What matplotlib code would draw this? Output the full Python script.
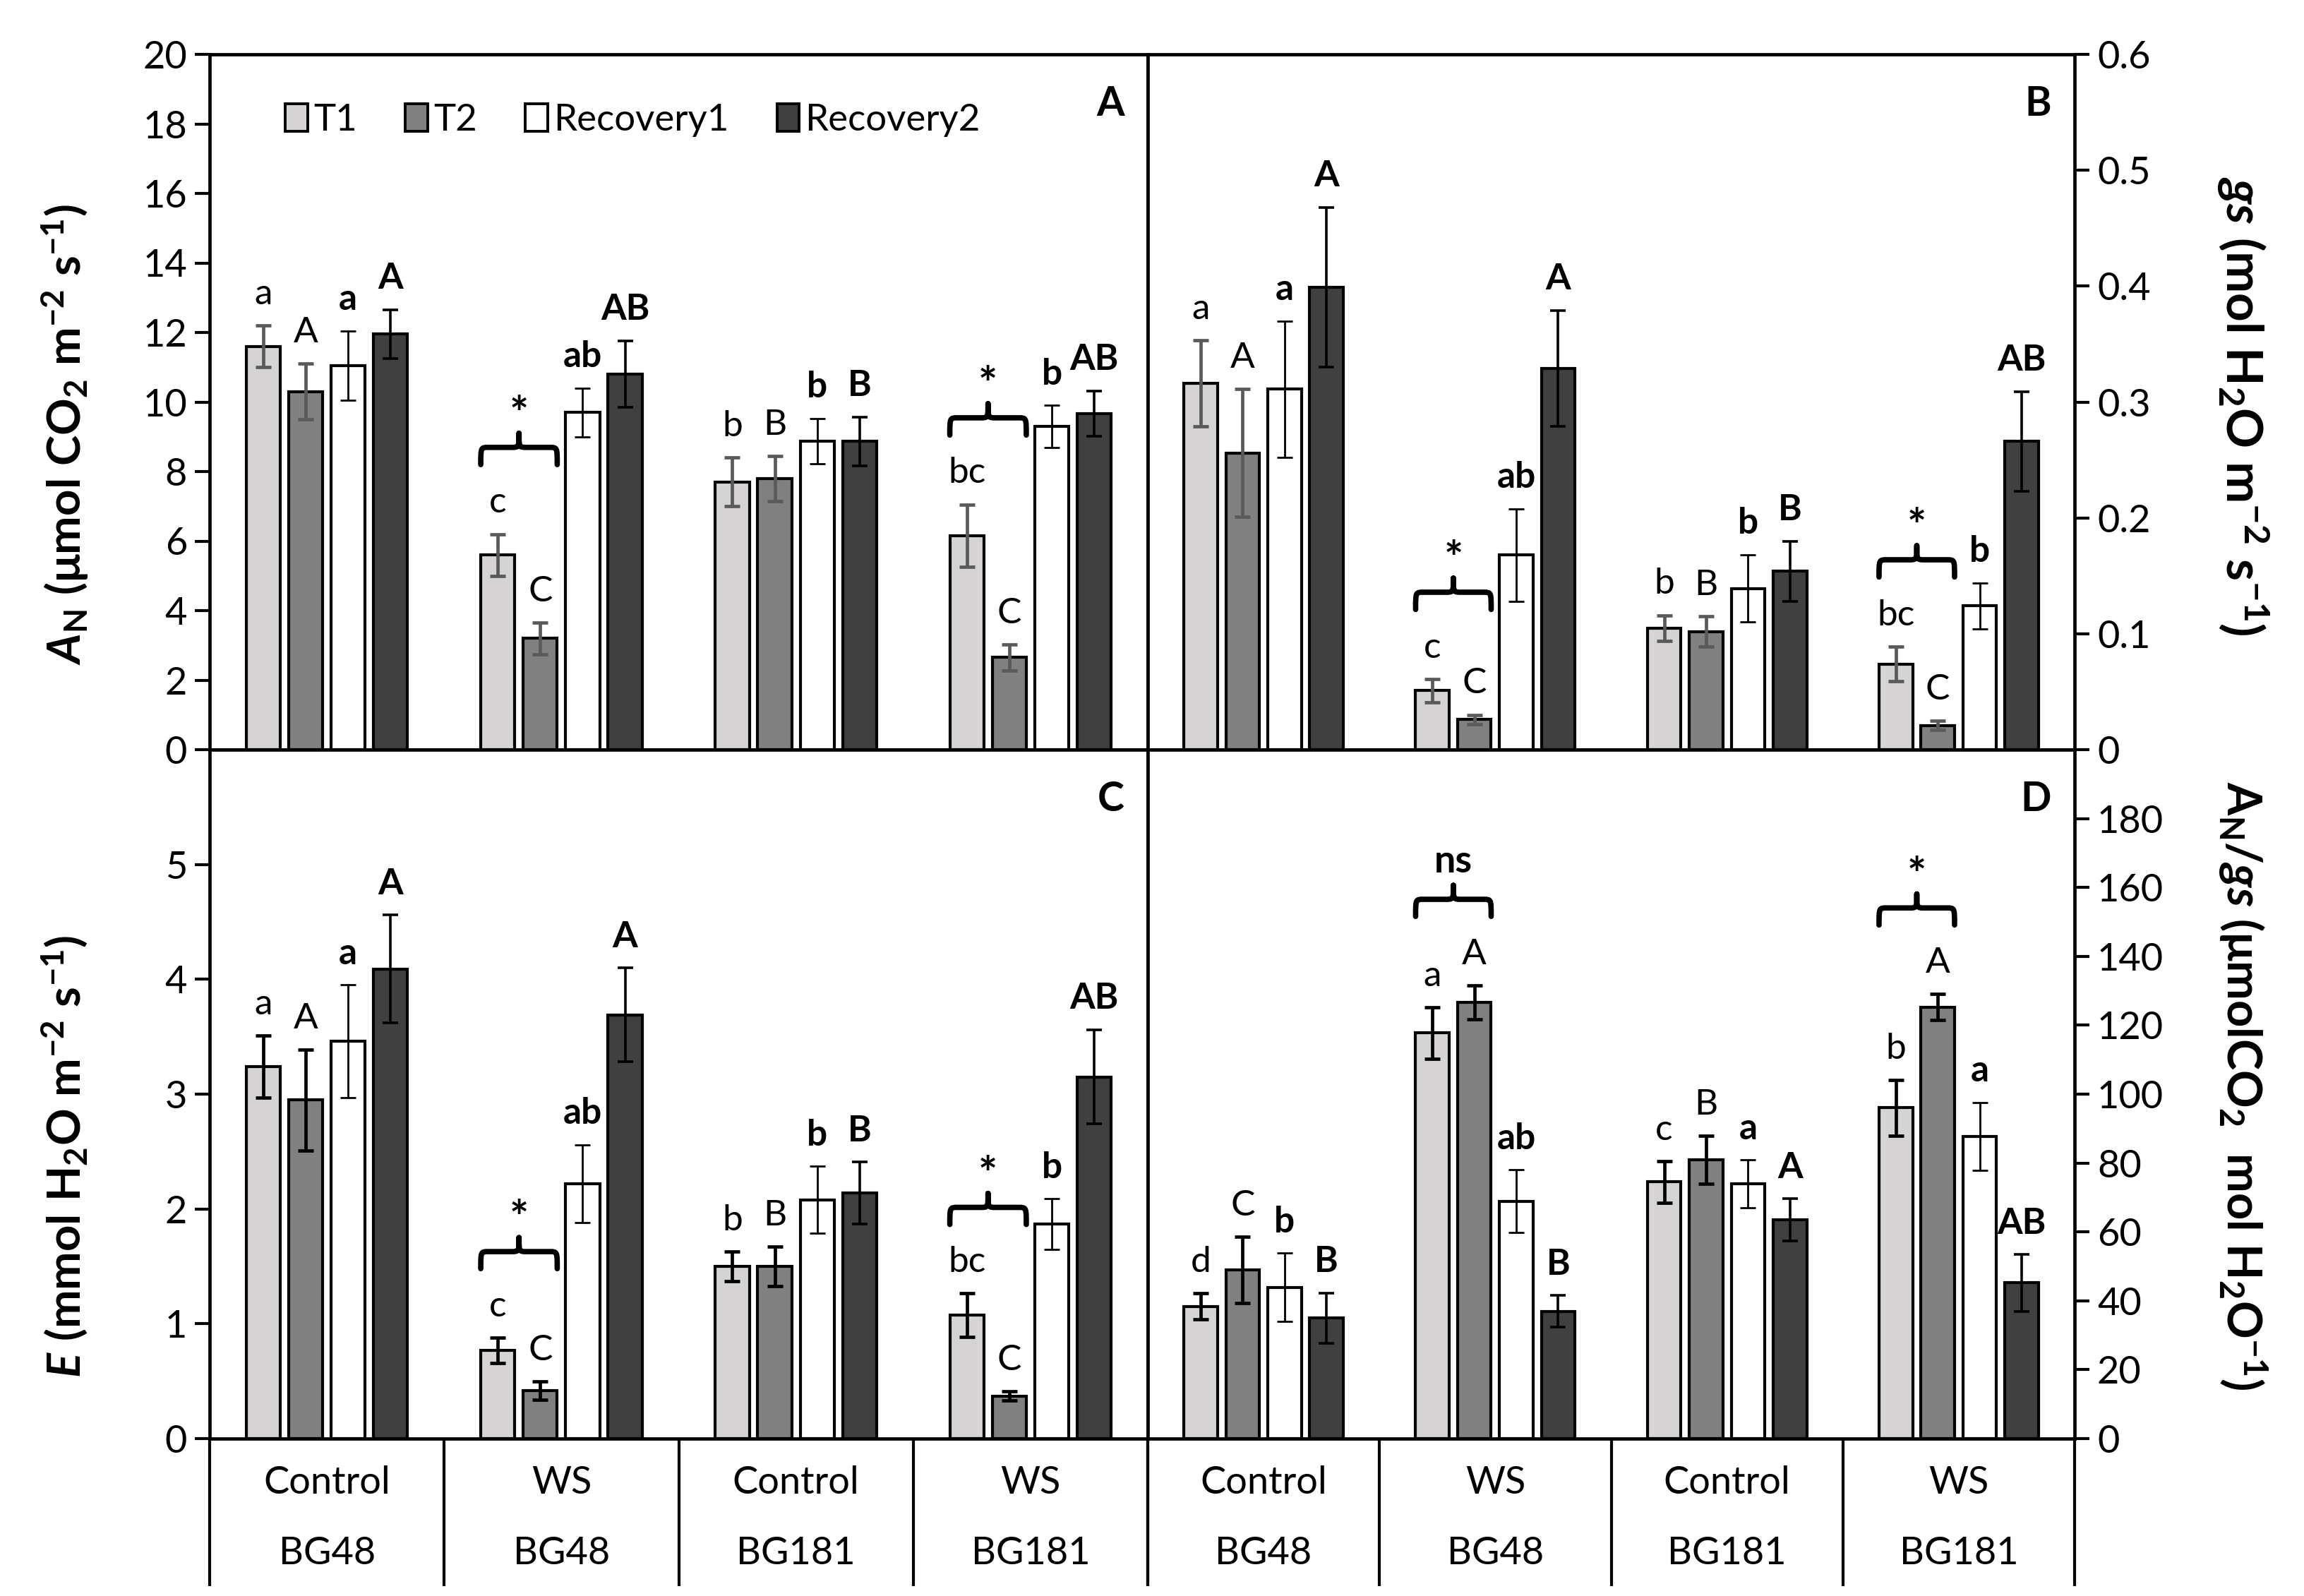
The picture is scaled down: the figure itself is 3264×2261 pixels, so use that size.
import matplotlib
matplotlib.use("Agg")
import matplotlib.pyplot as plt
import numpy as np
from matplotlib.path import Path
from matplotlib.patches import PathPatch, Patch

plt.rcParams['font.family'] = ['Lato', 'DejaVu Sans']
plt.rcParams['mathtext.fontset'] = 'custom'
plt.rcParams['mathtext.rm'] = 'Lato'
plt.rcParams['mathtext.it'] = 'Lato:italic'
plt.rcParams['mathtext.bf'] = 'Lato:bold'
plt.rcParams['mathtext.bfit'] = 'Lato:bold:italic'

# data
series = ['T1', 'T2', 'Recovery1', 'Recovery2']
treatments = ['Control', 'WS', 'Control', 'WS']
genotypes = ['BG48', 'BG48', 'BG181', 'BG181']

# rows = series (T1, T2, Recovery1, Recovery2), cols = groups
an_mean = [[11.6, 5.6, 7.7, 6.15],
           [10.3, 3.2, 7.8, 2.65],
           [11.05, 9.7, 8.87, 9.3],
           [11.95, 10.8, 8.87, 9.67]]
an_err = [[0.6, 0.6, 0.7, 0.9],
          [0.8, 0.45, 0.65, 0.37],
          [1.0, 0.7, 0.65, 0.6],
          [0.7, 0.95, 0.7, 0.65]]
an_lab = [['a', 'c', 'b', 'bc'], ['A', 'C', 'B', 'C'],
          ['a', 'ab', 'b', 'b'], ['A', 'AB', 'B', 'AB']]

gs_mean = [[0.316, 0.051, 0.105, 0.074],
           [0.256, 0.026, 0.102, 0.021],
           [0.311, 0.168, 0.139, 0.124],
           [0.399, 0.329, 0.154, 0.266]]
gs_err = [[0.037, 0.01, 0.011, 0.015],
          [0.055, 0.004, 0.013, 0.004],
          [0.059, 0.04, 0.029, 0.02],
          [0.069, 0.05, 0.026, 0.043]]
gs_lab = [['a', 'c', 'b', 'bc'], ['A', 'C', 'B', 'C'],
          ['a', 'ab', 'b', 'b'], ['A', 'A', 'B', 'AB']]

e_mean = [[3.24, 0.77, 1.5, 1.075],
          [2.95, 0.42, 1.5, 0.37],
          [3.46, 2.22, 2.08, 1.87],
          [4.09, 3.69, 2.14, 3.15]]
e_err = [[0.27, 0.11, 0.13, 0.19],
         [0.44, 0.08, 0.17, 0.04],
         [0.49, 0.34, 0.29, 0.22],
         [0.47, 0.41, 0.27, 0.41]]
e_lab = [['a', 'c', 'b', 'bc'], ['A', 'C', 'B', 'C'],
         ['a', 'ab', 'b', 'b'], ['A', 'A', 'B', 'AB']]

wue_mean = [[38.4, 117.8, 74.5, 96.1],
            [49.0, 126.7, 80.9, 125.3],
            [43.9, 68.9, 74.0, 87.7],
            [35.0, 36.9, 63.5, 45.2]]
wue_err = [[3.8, 7.5, 6.0, 8.1],
           [9.6, 4.9, 7.0, 3.8],
           [9.9, 9.1, 6.9, 9.9],
           [7.3, 4.6, 6.1, 8.3]]
wue_lab = [['d', 'a', 'c', 'b'], ['C', 'A', 'B', 'A'],
           ['b', 'ab', 'a', 'a'], ['B', 'B', 'A', 'AB']]

# significance between T1 and T2 per group
an_sig = ['', '*', '', '*']
gs_sig = ['', '*', '', '*']
e_sig = ['', '*', '', '*']
wue_sig = ['', 'ns', '', '*']

colors = ['#d6d3d4', '#808080', '#ffffff', '#404040']
W, H = 3264, 2261
fig = plt.figure(figsize=(W / 100, H / 100), dpi=100)

xl, xm, xr = 297, 1626, 2939
yt, ymid, yb = 77, 1062, 2038


def frac_box(x0, x1, y0, y1):
    return [x0 / W, 1 - y1 / H, (x1 - x0) / W, (y1 - y0) / H]


axA = fig.add_axes(frac_box(xl, xm, yt, ymid))
axB = fig.add_axes(frac_box(xm, xr, yt, ymid))
axC = fig.add_axes(frac_box(xl, xm, ymid, yb))
axD = fig.add_axes(frac_box(xm, xr, ymid, yb))

x = np.arange(len(treatments))
pitch = 0.181
bw = 0.145
TXT = 37


def brace(ax, x0, x1, y, h):
    # horizontal curly brace, tip pointing up
    xc = (x0 + x1) / 2
    d = (x1 - x0) * 0.1
    ym = y + h * 0.55
    verts = [(x0, y), (x0, ym), (x0, ym), (x0 + d, ym),
             (xc - d, ym),
             (xc, ym), (xc, ym), (xc, y + h),
             (xc, ym), (xc, ym), (xc + d, ym),
             (x1 - d, ym),
             (x1, ym), (x1, ym), (x1, y)]
    codes = [Path.MOVETO, Path.CURVE4, Path.CURVE4, Path.CURVE4,
             Path.LINETO,
             Path.CURVE4, Path.CURVE4, Path.CURVE4,
             Path.CURVE4, Path.CURVE4, Path.CURVE4,
             Path.LINETO,
             Path.CURVE4, Path.CURVE4, Path.CURVE4]
    ax.add_patch(PathPatch(Path(verts, codes), fill=False, lw=5.5,
                           color='black', capstyle='round', joinstyle='round'))


def panel(ax, mean, err, labs, sig, ymax, ticks, right, t_err_col, letter):
    for i in range(4):
        xs = x + (i - 1.5) * pitch
        ax.bar(xs, mean[i], bw, color=colors[i], edgecolor='black', lw=3.0, zorder=2)
        if i < 2:
            ax.errorbar(xs, mean[i], yerr=err[i], fmt='none', ecolor=t_err_col,
                        elinewidth=3.4, capsize=8, capthick=3.4, zorder=3)
        else:
            ax.errorbar(xs, mean[i], yerr=err[i], fmt='none', ecolor='black',
                        elinewidth=2.0 if i == 2 else 2.6, capsize=8,
                        capthick=2.0 if i == 2 else 2.6, zorder=3)
        for j in range(4):
            top = mean[i][j] + err[i][j]
            ax.text(xs[j], top + 0.045 * ymax, labs[i][j], ha='center', va='center',
                    fontsize=TXT, fontweight='bold' if i >= 2 else 'normal')
    for j in range(4):
        if sig[j]:
            x0 = x[j] - 1.5 * pitch - bw / 2
            x1 = x[j] - 0.5 * pitch + bw / 2
            top = max(mean[0][j] + err[0][j], mean[1][j] + err[1][j])
            yb_ = top + 0.1 * ymax
            brace(ax, x0, x1, yb_, 0.045 * ymax)
            star = sig[j] == '*'
            ax.text((x0 + x1) / 2, yb_ + (0.07 if star else 0.08) * ymax, sig[j],
                    ha='center', va='center', fontsize=46 if star else TXT + 2,
                    fontweight='bold')
    ax.set_xlim(-0.5, 3.5)
    ax.set_ylim(0, ymax)
    ax.set_xticks([])
    ax.set_yticks(ticks)
    ax.set_yticklabels([f'{t:g}' for t in ticks], fontsize=39)
    ax.tick_params(axis='y', length=15, width=3.0, pad=8)
    if right:
        ax.yaxis.tick_right()
        ax.yaxis.set_label_position('right')
    for s in ax.spines.values():
        s.set_linewidth(3.4)
    ax.text(0.975, 0.955, letter, transform=ax.transAxes, ha='right', va='top',
            fontsize=41, fontweight='bold')


panel(axA, an_mean, an_err, an_lab, an_sig, 20, np.arange(0, 21, 2),
      False, '#5a5a5a', 'A')
panel(axB, gs_mean, gs_err, gs_lab, gs_sig, 0.6, np.round(np.arange(0, 0.61, 0.1), 1),
      True, '#5a5a5a', 'B')
panel(axC, e_mean, e_err, e_lab, e_sig, 6, np.arange(0, 6, 1),
      False, 'black', 'C')
panel(axD, wue_mean, wue_err, wue_lab, wue_sig, 200, np.arange(0, 181, 20),
      True, 'black', 'D')

axA.set_ylabel(r'$\mathbfit{A}_{\mathbf{N}}\ \mathbf{(\mu mol\ CO_2\ m^{-2}\ s^{-1})}$',
               fontsize=47, va='center')
axC.set_ylabel(r'$\mathbfit{E}\ \mathbf{(mmol\ H_2O\ m^{-2}\ s^{-1})}$',
               fontsize=47, va='center')
axB.set_ylabel(r'$\mathbfit{gs}\ \mathbf{(mol\ H_2O\ m^{-2}\ s^{-1})}$',
               fontsize=51, rotation=270, va='center')
axD.set_ylabel(r'$\mathbf{A_N/}\mathbfit{gs}\ \mathbf{(\mu molCO_2\ \ mol\ H_2O^{-1})}$',
               fontsize=48, rotation=270, va='center')
axA.yaxis.set_label_coords((92 - xl) / (xm - xl), 0.453)
axC.yaxis.set_label_coords((92 - xl) / (xm - xl), 0.41)
axB.yaxis.set_label_coords((3177 - xm) / (xr - xm), 0.494)
axD.yaxis.set_label_coords((3177 - xm) / (xr - xm), 0.512)

# legend
handles = [Patch(facecolor=c, edgecolor='black', lw=2.8) for c in colors]
axA.legend(handles, series, loc='center left', bbox_to_anchor=(0.045, 0.905),
           ncol=4, frameon=False, fontsize=38, handlelength=0.6, handleheight=0.75,
           handletextpad=0.15, columnspacing=1.3)

# category table under bottom panels
depth = (2247 - yb) / (yb - ymid)
for ax in (axC, axD):
    tr = ax.get_xaxis_transform()
    for b in np.arange(-0.5, 4.0, 1.0):
        ax.plot([b, b], [0, -depth], transform=tr, color='black', lw=3.0,
                clip_on=False, solid_capstyle='butt')
    for j in range(4):
        ax.text(x[j], -0.064, treatments[j], transform=tr, ha='center', va='center',
                fontsize=39)
        ax.text(x[j], -0.166, genotypes[j], transform=tr, ha='center', va='center',
                fontsize=39)

fig.savefig('out.png', dpi=100)
